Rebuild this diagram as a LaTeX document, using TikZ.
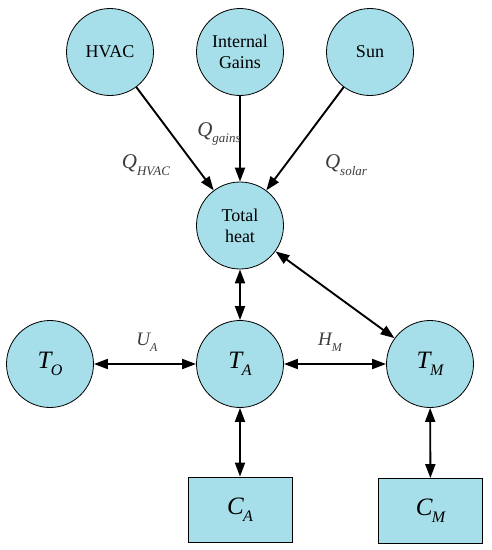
\documentclass[tikz,border=0pt]{standalone}
\usepackage{fontspec}
\setmainfont{Liberation Serif}
\newfontfamily\figfont{Liberation Serif}
\usetikzlibrary{arrows.meta}
\definecolor{nodefill}{RGB}{166,222,233}
\definecolor{labelgray}{RGB}{60,60,60}
\newcommand{\varsub}[2]{{\figfont\fontsize{25}{25}\selectfont\itshape #1\kern-0.5pt\raisebox{-0.28em}{\fontsize{16}{16}\selectfont\itshape #2}}}
\newcommand{\qsub}[1]{{\figfont\fontsize{21}{21}\selectfont\itshape Q\raisebox{-0.3em}{\fontsize{13}{13}\selectfont\itshape #1}}}
\begin{document}
\begin{tikzpicture}[x=1pt,y=-1pt,
  circ/.style={circle,draw=black,line width=0.8pt,fill=nodefill,minimum size=87pt,inner sep=0pt,
    align=center,font=\figfont\fontsize{18}{21}\selectfont},
  boxn/.style={rectangle,draw=black,line width=0.8pt,fill=nodefill,minimum width=104pt,minimum height=65pt,inner sep=0pt},
  conn/.style={line width=1.9pt,-{Triangle[length=14pt,width=10pt]}},
  bconn/.style={line width=1.9pt,{Triangle[length=14pt,width=10pt]}-{Triangle[length=14pt,width=10pt]}},
  lbl/.style={text=labelgray,inner sep=0pt}]
\useasboundingbox (0,0) rectangle (492,550);
\node[circ] (hvac) at (110,52) {HVAC};
\node[circ] (gains) at (240,52) {Internal\\Gains};
\node[circ] (sun) at (370,52) {Sun};
\node[circ] (total) at (240,225.5) {Total\\heat};
\node[circ] (to) at (50,364) {\varsub{T}{O}};
\node[circ] (ta) at (240,364) {\varsub{T}{A}};
\node[circ] (tm) at (430,364) {\varsub{T}{M}};
\node[boxn] (ca) at (240,509.5) {\varsub{C}{A}};
\node[boxn] (cm) at (430.5,511) {\varsub{C}{M}};
\draw[conn] (hvac) -- (total);
\draw[conn] (gains) -- (total);
\draw[conn] (sun) -- (total);
\draw[bconn] (total) -- (ta);
\draw[bconn] (total) -- (tm);
\draw[bconn] (to) -- (ta);
\draw[bconn] (ta) -- (tm);
\draw[bconn] (ta) -- (ca);
\draw[bconn] (tm) -- (cm);
\node[lbl] (lhvac) at (146,165) {\qsub{HVAC}};
\node[lbl] (lgains) at (219,134) {\qsub{gains}};
\node[lbl] (lsolar) at (346,165) {\qsub{solar}};
\node[lbl] (lua) at (147,342) {{\figfont\fontsize{19}{19}\selectfont\itshape U\raisebox{-0.3em}{\fontsize{12}{12}\selectfont\itshape A}}};
\node[lbl] (lhm) at (330,342) {{\figfont\fontsize{19}{19}\selectfont\itshape H\raisebox{-0.3em}{\fontsize{12}{12}\selectfont\itshape M}}};
\end{tikzpicture}
\end{document}
